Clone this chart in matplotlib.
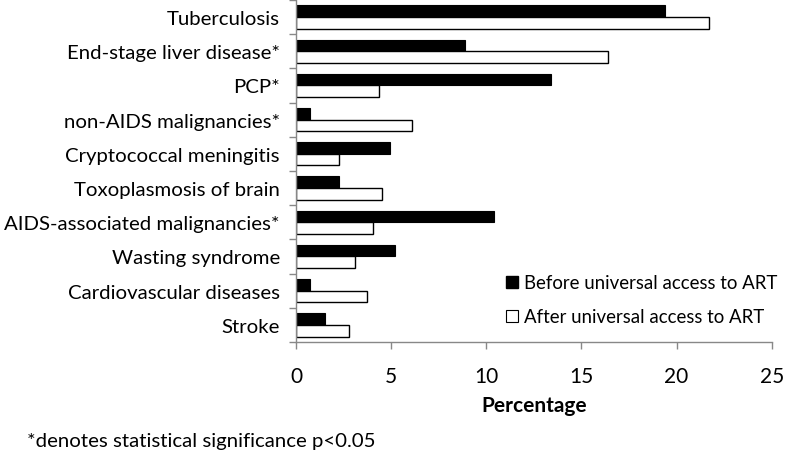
import numpy as np
import matplotlib.pyplot as plt
from matplotlib.lines import Line2D

plt.rcParams['font.family'] = ['Lato', 'DejaVu Sans']

categories = ['Tuberculosis', 'End-stage liver disease*', 'PCP*',
              'non-AIDS malignancies*', 'Cryptococcal meningitis',
              'Toxoplasmosis of brain', 'AIDS-associated malignancies*',
              'Wasting syndrome', 'Cardiovascular diseases', 'Stroke']
before_art = [19.4, 8.9, 13.4, 0.75, 4.95, 2.25, 10.4, 5.2, 0.75, 1.5]
after_art = [21.7, 16.4, 4.35, 6.1, 2.25, 4.5, 4.05, 3.1, 3.75, 2.8]
xticks = [0, 5, 10, 15, 20, 25]

fig = plt.figure(figsize=(7.92, 4.52), dpi=100)
ax = fig.add_axes([0.3737, 0.2412, 0.6007, 0.7568])

pos = np.arange(len(categories))
h = 0.34
ax.barh(pos - h / 2, before_art, height=h, color='black', edgecolor='black',
        linewidth=0.8, label='Before universal access to ART')
ax.barh(pos + h / 2, after_art, height=h, color='white', edgecolor='black',
        linewidth=1.0, label='After universal access to ART')

ax.set_ylim(len(categories) - 0.5, -0.5)
ax.set_xlim(0, 25)

# labels at category centres, tick marks at category boundaries
ax.set_yticks(pos)
ax.set_yticklabels(categories, fontsize=14.7)
ax.tick_params(axis='y', which='major', length=0, pad=11.5)
ax.set_yticks(np.arange(len(categories) + 1) - 0.5, minor=True)
ax.tick_params(axis='y', which='minor', length=5, color='#888888', width=1)

ax.set_xticks(xticks)
ax.set_xticklabels([str(t) for t in xticks], fontsize=15)
ax.tick_params(axis='x', length=5, color='#888888', width=1, pad=12)
ax.set_xlabel('Percentage', fontsize=15, fontweight='bold', labelpad=7)

for s in ['top', 'right']:
    ax.spines[s].set_visible(False)
for s in ['left', 'bottom']:
    ax.spines[s].set_color('#888888')
    ax.spines[s].set_linewidth(1)

handles = [Line2D([], [], marker='s', linestyle='none', markersize=9,
                  markerfacecolor='black', markeredgecolor='black'),
           Line2D([], [], marker='s', linestyle='none', markersize=9,
                  markerfacecolor='white', markeredgecolor='black', markeredgewidth=0.8)]
ax.legend(handles, ['Before universal access to ART', 'After universal access to ART'],
          loc='lower right', bbox_to_anchor=(1.048, 0.0), frameon=False, fontsize=13.4,
          handletextpad=0.15, handlelength=1.0, labelspacing=0.9)

fig.text(0.034, 0.01, '*denotes statistical significance p<0.05', fontsize=14.7)

fig.savefig('out.png', dpi=100)
